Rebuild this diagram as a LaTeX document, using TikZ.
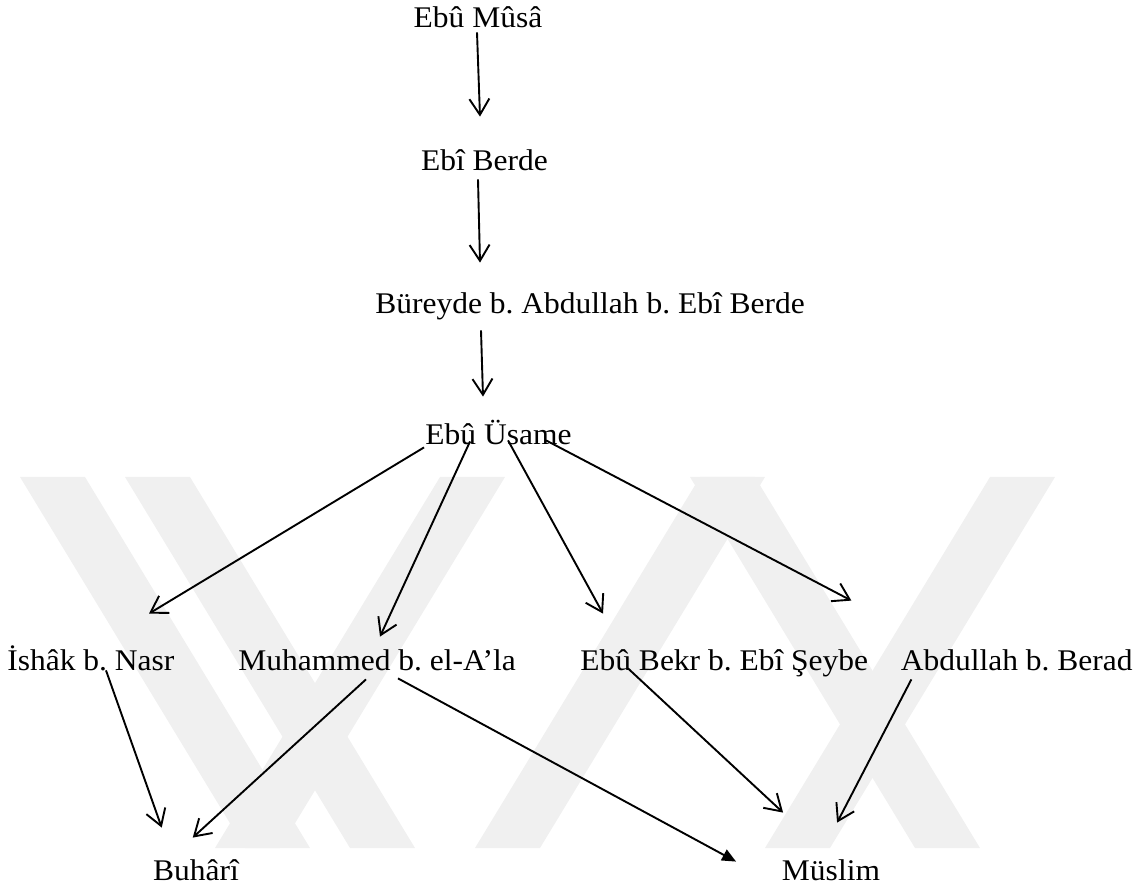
\documentclass[tikz,border=0pt]{standalone}
\usepackage{fontspec}
\setmainfont{Liberation Serif}[FakeStretch=1.05]
\usepackage{tikz}
\usetikzlibrary{arrows.meta,%
  calc}
\frenchspacing

\tikzset{
  ravi/.style={anchor=base, inner sep=0pt, text height=10pt, text depth=3pt,
    font=\fontsize{15pt}{17pt}\selectfont},
  isnad/.style={-{Straight Barb[length=8pt,width=10pt]}, line width=0.95pt},
  isnadfull/.style={-{Triangle[length=7pt,width=6pt]}, line width=0.95pt},
  filigran/.style={fill=black!6}
}

\begin{document}
\begin{tikzpicture}[x=0.5pt,y=-0.5pt]
            \useasboundingbox (0,0) rectangle (1137,893);
            % watermark bands
            \foreach \a/\b in {20/245,125/350,690/915,440/215,700/475,990/765}
              \fill[filigran] (\a,477) -- (\a+65,477) -- (\b+65,848) -- (\b,848) -- cycle;

            \node[ravi] (musa) at (478,28) {Ebû Mûsâ};
            \node[ravi] (berde) at (484.5,171) {Ebî Berde};
            \node[ravi, anchor=base west] (bureyde) at (375,314) {Büreyde b. Abdullah b. Ebî Berde};
            \node[ravi] (usame) at (498.5,445) {Ebû Üsame};

            \node[ravi, anchor=base west] (ishak) at (7,670) {İshâk b. Nasr};
            \node[ravi, anchor=base west] (muhammed) at (238,670) {Muhammed b. el-A’la};
            \node[ravi, anchor=base west] (ebubekr) at (580,670) {Ebû Bekr b. Ebî Şeybe};
            \node[ravi, anchor=base east] (abdullah) at (1133,670) {Abdullah b. Berad};

            \node[ravi] (buhari) at (196,880) {Buhârî};
            \node[ravi] (muslim) at (831,880) {Müslim};

            \draw[isnad] ($(musa.south)+(-1,-2)$) -- ($(berde.north)+(-4.5,-34)$);
            \draw[isnad] ($(berde.south)+(-6.5,2)$) -- ($(bureyde.north west)+(105,-31)$);
            \draw[isnad] ($(bureyde.south west)+(106,10)$) -- ($(usame.north)+(-15.5,-28)$);

            \draw[isnad] ($(usame.south west)+(-1,-4)$) -- ($(ishak.north west)+(142,-36)$);
            \draw[isnad] ($(usame.south west)+(45,-10)$) -- ($(muhammed.north west)+(142,-13)$);
            \draw[isnad] ($(usame.south west)+(83,-11)$) -- ($(ebubekr.north west)+(23,-36)$);
            \draw[isnad] ($(usame.south west)+(121,-11)$) -- ($(abdullah.north west)+(-49,-49)$);

            \draw[isnad] ($(ishak.south west)+(99,-6)$) -- ($(buhari.north west)+(9,-32)$);
            \draw[isnad] ($(muhammed.south west)+(128,3)$) -- ($(buhari.north west)+(40,-22)$);
            \draw[isnadfull] ($(muhammed.south west)+(160,2)$) -- ($(muslim.north west)+(-45.5,2)$);
            \draw[isnad] ($(ebubekr.south west)+(48,-8)$) -- ($(muslim.north west)+(1.5,-47)$);
            \draw[isnad] ($(abdullah.south west)+(11,3)$) -- ($(muslim.north west)+(55.5,-37)$);
        \end{tikzpicture}
\end{document}
